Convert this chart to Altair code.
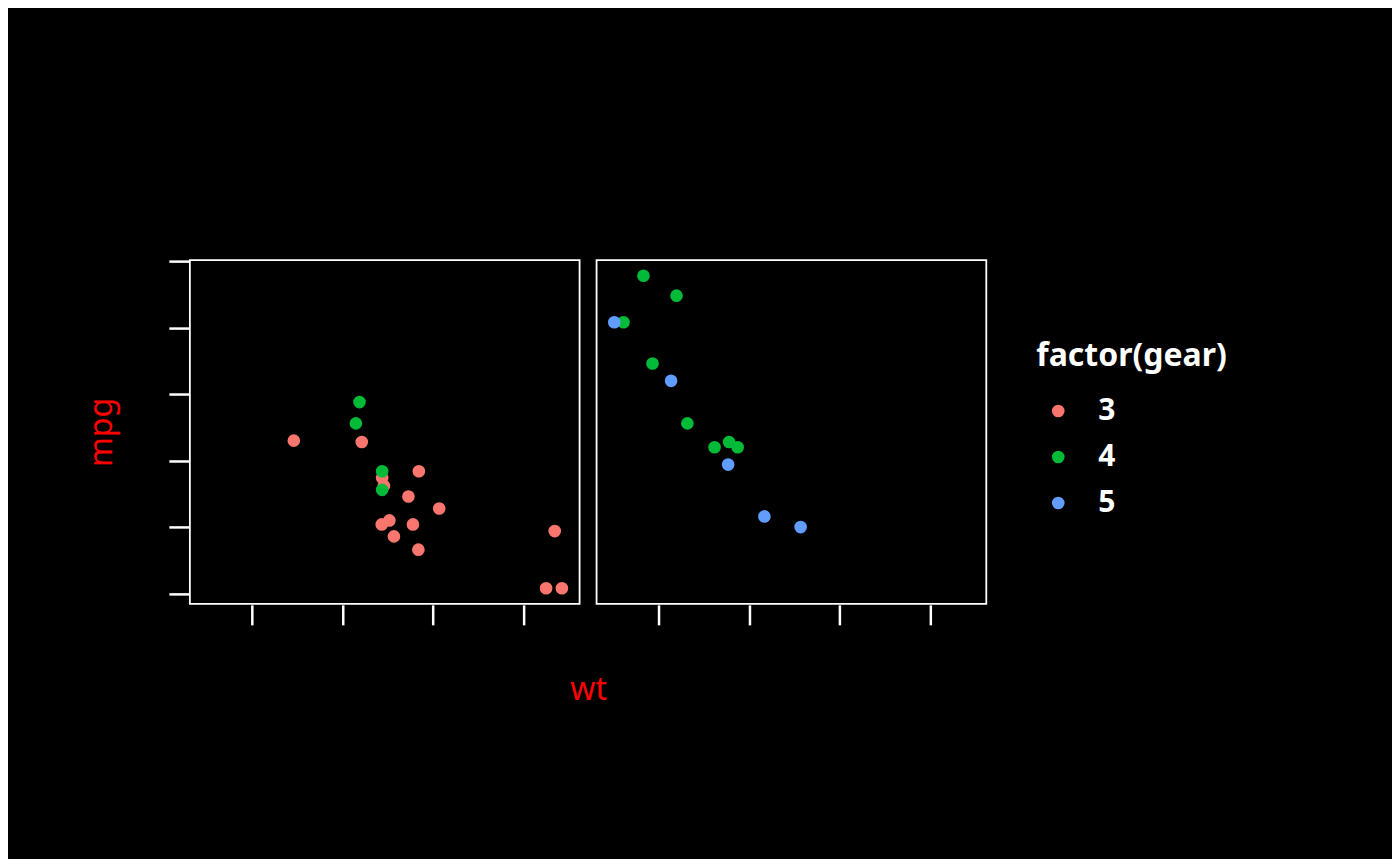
import altair as alt
import pandas as pd

wt = [2.620, 2.875, 2.320, 3.215, 3.440, 3.460, 3.570, 3.190, 3.150, 3.440, 3.440,
      4.070, 3.730, 3.780, 5.250, 5.424, 5.345, 2.200, 1.615, 1.835, 2.465, 3.520,
      3.435, 3.840, 3.845, 1.935, 2.140, 1.513, 3.170, 2.770, 3.570, 2.780]
mpg = [21.0, 21.0, 22.8, 21.4, 18.7, 18.1, 14.3, 24.4, 22.8, 19.2, 17.8,
       16.4, 17.3, 15.2, 10.4, 10.4, 14.7, 32.4, 30.4, 33.9, 21.5, 15.5,
       15.2, 13.3, 19.2, 27.3, 26.0, 30.4, 15.8, 19.7, 15.0, 21.4]
am = [1, 1, 1, 0, 0, 0, 0, 0, 0, 0, 0,
      0, 0, 0, 0, 0, 0, 1, 1, 1, 0, 0,
      0, 0, 0, 1, 1, 1, 1, 1, 1, 1]
gear = [4, 4, 4, 3, 3, 3, 3, 4, 4, 4, 4,
        3, 3, 3, 3, 3, 3, 4, 4, 4, 3, 3,
        3, 3, 3, 4, 5, 5, 5, 5, 5, 4]

gear_levels = ["3", "4", "5"]
gear_colors = ["#F8766D", "#00BA38", "#619CFF"]
x_ticks = [2, 3, 4, 5]
y_ticks = [10, 15, 20, 25, 30, 35]

df = pd.DataFrame({"wt": wt, "mpg": mpg, "am": am, "gear": [str(g) for g in gear]})

FONT = "Noto Sans"

base = alt.Chart(df).mark_circle(size=160, opacity=1).encode(
    x=alt.X("wt:Q",
            scale=alt.Scale(domain=[1.3175, 5.6195], nice=False, zero=False),
            axis=alt.Axis(title=None, values=x_ticks, labels=False, domain=False, grid=False,
                          ticks=True, tickSize=20, tickWidth=2.5, tickColor="white")),
    y=alt.Y("mpg:Q",
            scale=alt.Scale(domain=[9.225, 35.075], nice=False, zero=False),
            axis=alt.Axis(title="mpg", values=y_ticks, labels=False, domain=False, grid=False,
                          ticks=True, tickSize=20, tickWidth=2.5, tickColor="white",
                          titleColor="red", titleFont=FONT, titleFontSize=32,
                          titleFontWeight="normal", titlePadding=49)),
    color=alt.Color("gear:N",
                    scale=alt.Scale(domain=gear_levels, range=gear_colors),
                    legend=alt.Legend(title="factor(gear)", orient="none",
                                      legendX=847, legendY=81,
                                      titleColor="white", titleFont=FONT, titleFontSize=32,
                                      titleFontWeight="bold", titlePadding=23, titleLimit=500,
                                      labelColor="white", labelFont=FONT, labelFontSize=30,
                                      labelFontWeight="bold", labelOffset=25,
                                      symbolType="circle", symbolSize=160, symbolOffset=7,
                                      symbolStrokeWidth=0, symbolOpacity=1,
                                      rowPadding=16)),
).properties(width=390, height=344)

chart = base.facet(
    column=alt.Column("am:N",
                      header=alt.Header(title="wt", titleOrient="bottom", labels=False,
                                        titleColor="red", titleFont=FONT, titleFontSize=32,
                                        titleFontWeight="normal", titlePadding=38)),
    spacing=15,
).properties(
    padding={"left": 77, "top": 251, "right": 165, "bottom": 153}
).configure(
    background="black"
).configure_view(
    stroke="white", strokeWidth=1.8
)

chart.save("out.html", embed_options={"renderer": "svg", "actions": False})
